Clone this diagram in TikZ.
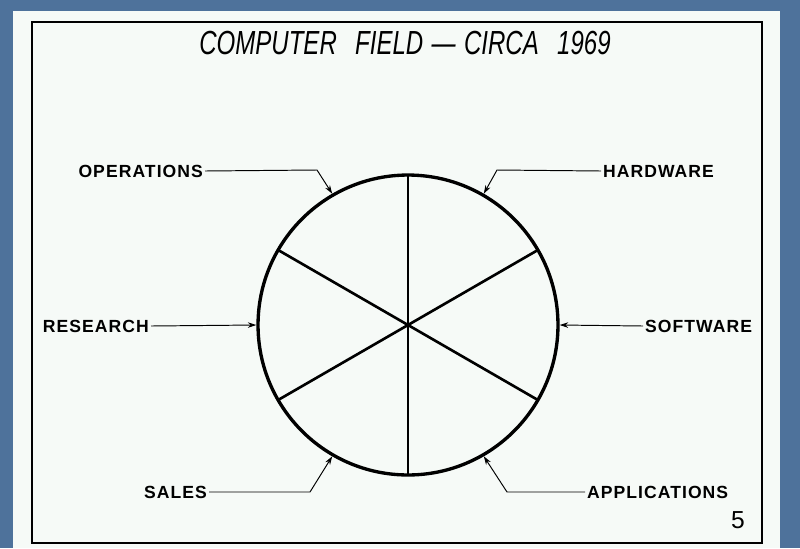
\documentclass[tikz,border=0pt]{standalone}
\usepackage{fontspec}
\setmainfont{Liberation Sans}
\newfontfamily\lblfont[LetterSpace=6]{Liberation Sans}
\newfontfamily\titlefont[FakeStretch=0.72]{Liberation Sans}
\usetikzlibrary{arrows.meta}

\definecolor{slideblue}{RGB}{78,114,155}
\definecolor{paper}{RGB}{246,250,247}

\begin{document}
\begin{tikzpicture}[
    x=0.02cm, y=-0.02cm,
    >={Stealth[length=1.7mm,width=1.1mm]},
    lbl/.style   ={inner sep=1pt, font=\lblfont\bfseries\fontsize{10}{12}\selectfont},
    leader/.style={->, line width=0.55pt},
    spoke/.style ={line width=1.5pt},
    wheel/.style ={circle, draw, line width=1.9pt, minimum size=6cm, inner sep=0pt}
]
\useasboundingbox (0,0) rectangle (800,548);

% --- Slide background and paper ---
\fill[slideblue] (0,0) rectangle (800,548);
\fill[paper] (13,11) rectangle (780,548);
\draw[line width=0.8pt] (32,22) rectangle (762,543);

% --- Title ---
\node[font=\titlefont\itshape\fontsize{19}{22}\selectfont] (title) at (405,43)
  {COMPUTER\hspace{0.35em} FIELD\hspace{0.25em}\textemdash\hspace{0.25em}CIRCA\hspace{0.35em} 1969};

% --- Wheel ---
\node[wheel] (wheel) at (408,325) {};
\foreach \a in {30,90,...,330}
  \draw[spoke] (wheel.center) -- ++(\a:3cm);

% --- Labels ---
\node[lbl, anchor=east] (ops)  at (205,171) {OPERATIONS};
\node[lbl, anchor=west] (hw)   at (601,171) {HARDWARE};
\node[lbl, anchor=east] (res)  at (151,326) {RESEARCH};
\node[lbl, anchor=west] (sw)   at (643,326) {SOFTWARE};
\node[lbl, anchor=east] (sal)  at (209,492) {SALES};
\node[lbl, anchor=west] (app)  at (585,492) {APPLICATIONS};
\node[font=\fontsize{14}{16}\selectfont] (page) at (738,520) {5};

% --- Leaders ---
\draw[leader] (ops.east) -- (317,170) -- (wheel.120);
\draw[leader] (hw.west)  -- (497,170) -- (wheel.60);
\draw[leader] (res.east) -- (wheel.180);
\draw[leader] (sw.west)  -- (wheel.0);
\draw[leader] (sal.east) -- (310,492) -- (wheel.240);
\draw[leader] (app.west) -- (507,492) -- (wheel.300);

\end{tikzpicture}
\end{document}
